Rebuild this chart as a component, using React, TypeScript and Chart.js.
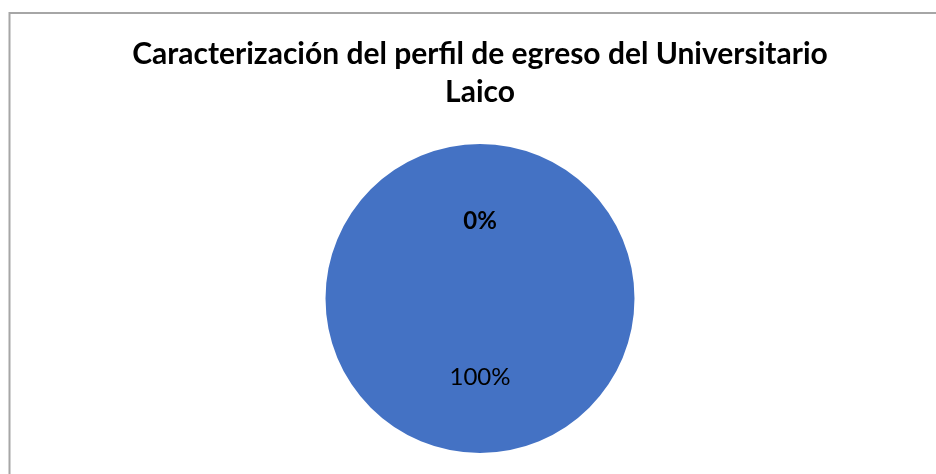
import React, { useEffect, useRef } from "react";
import { Chart, registerables } from "chart.js";

Chart.register(...registerables);

const titleLines = ["Caracterización del perfil de egreso del Universitario", "Laico"];
const categories = ["No", "Sí"];
const values = [0, 100];
const sliceColors = ["#ED7D31", "#4472C4"];
const labelBold = [true, false];

const borderPlugin = {
  id: "frameBorder",
  beforeDraw(chart: any) {
    const ctx = chart.ctx;
    ctx.save();
    ctx.fillStyle = "#ffffff";
    ctx.fillRect(0, 0, chart.width, chart.height);
    ctx.strokeStyle = "#a6a6a6";
    ctx.lineWidth = 2;
    ctx.beginPath();
    ctx.moveTo(9.5, chart.height + 2);
    ctx.lineTo(9.5, 13);
    ctx.lineTo(chart.width + 2, 13);
    ctx.stroke();
    ctx.restore();
  },
};

const labelPlugin = {
  id: "sliceLabels",
  afterDatasetsDraw(chart: any) {
    const ctx = chart.ctx;
    const meta = chart.getDatasetMeta(0);
    const data = chart.data.datasets[0].data as number[];
    const total = data.reduce((a, b) => a + b, 0);
    ctx.save();
    ctx.textAlign = "center";
    ctx.textBaseline = "middle";
    ctx.fillStyle = "#000000";
    meta.data.forEach((arc: any, i: number) => {
      const pos = arc.tooltipPosition();
      const pct = Math.round((data[i] / total) * 100) + "%";
      ctx.font = (labelBold[i] ? "bold " : "") + "24px Lato";
      ctx.fillText(pct, pos.x, pos.y + (i === 1 ? 2 : 0));
    });
    ctx.restore();
  },
};

export default function App() {
  const ref = useRef<HTMLCanvasElement>(null);
  useEffect(() => {
    if (!ref.current) return;
    const chart = new Chart(ref.current, {
      type: "pie",
      data: {
        labels: categories,
        datasets: [
          {
            data: values,
            backgroundColor: sliceColors,
            borderWidth: 0,
          },
        ],
      },
      options: {
        animation: false,
        responsive: false,
        maintainAspectRatio: false,
        layout: { padding: { left: 24, right: 0, top: 0, bottom: 21 } },
        plugins: {
          legend: { display: false },
          tooltip: { enabled: false },
          title: {
            display: true,
            text: titleLines,
            color: "#000000",
            font: { family: "Lato", size: 30, weight: "bold", lineHeight: 1.267 },
            padding: { top: 35.5, bottom: 32.5 },
          },
        },
      },
      plugins: [borderPlugin, labelPlugin],
    });
    return () => chart.destroy();
  }, []);
  return (
    <div style={{ position: "fixed", left: 0, top: 0, width: 936, height: 474, background: "#fff" }}>
      <canvas ref={ref} width={936} height={474} style={{ width: 936, height: 474, display: "block" }} />
    </div>
  );
}
